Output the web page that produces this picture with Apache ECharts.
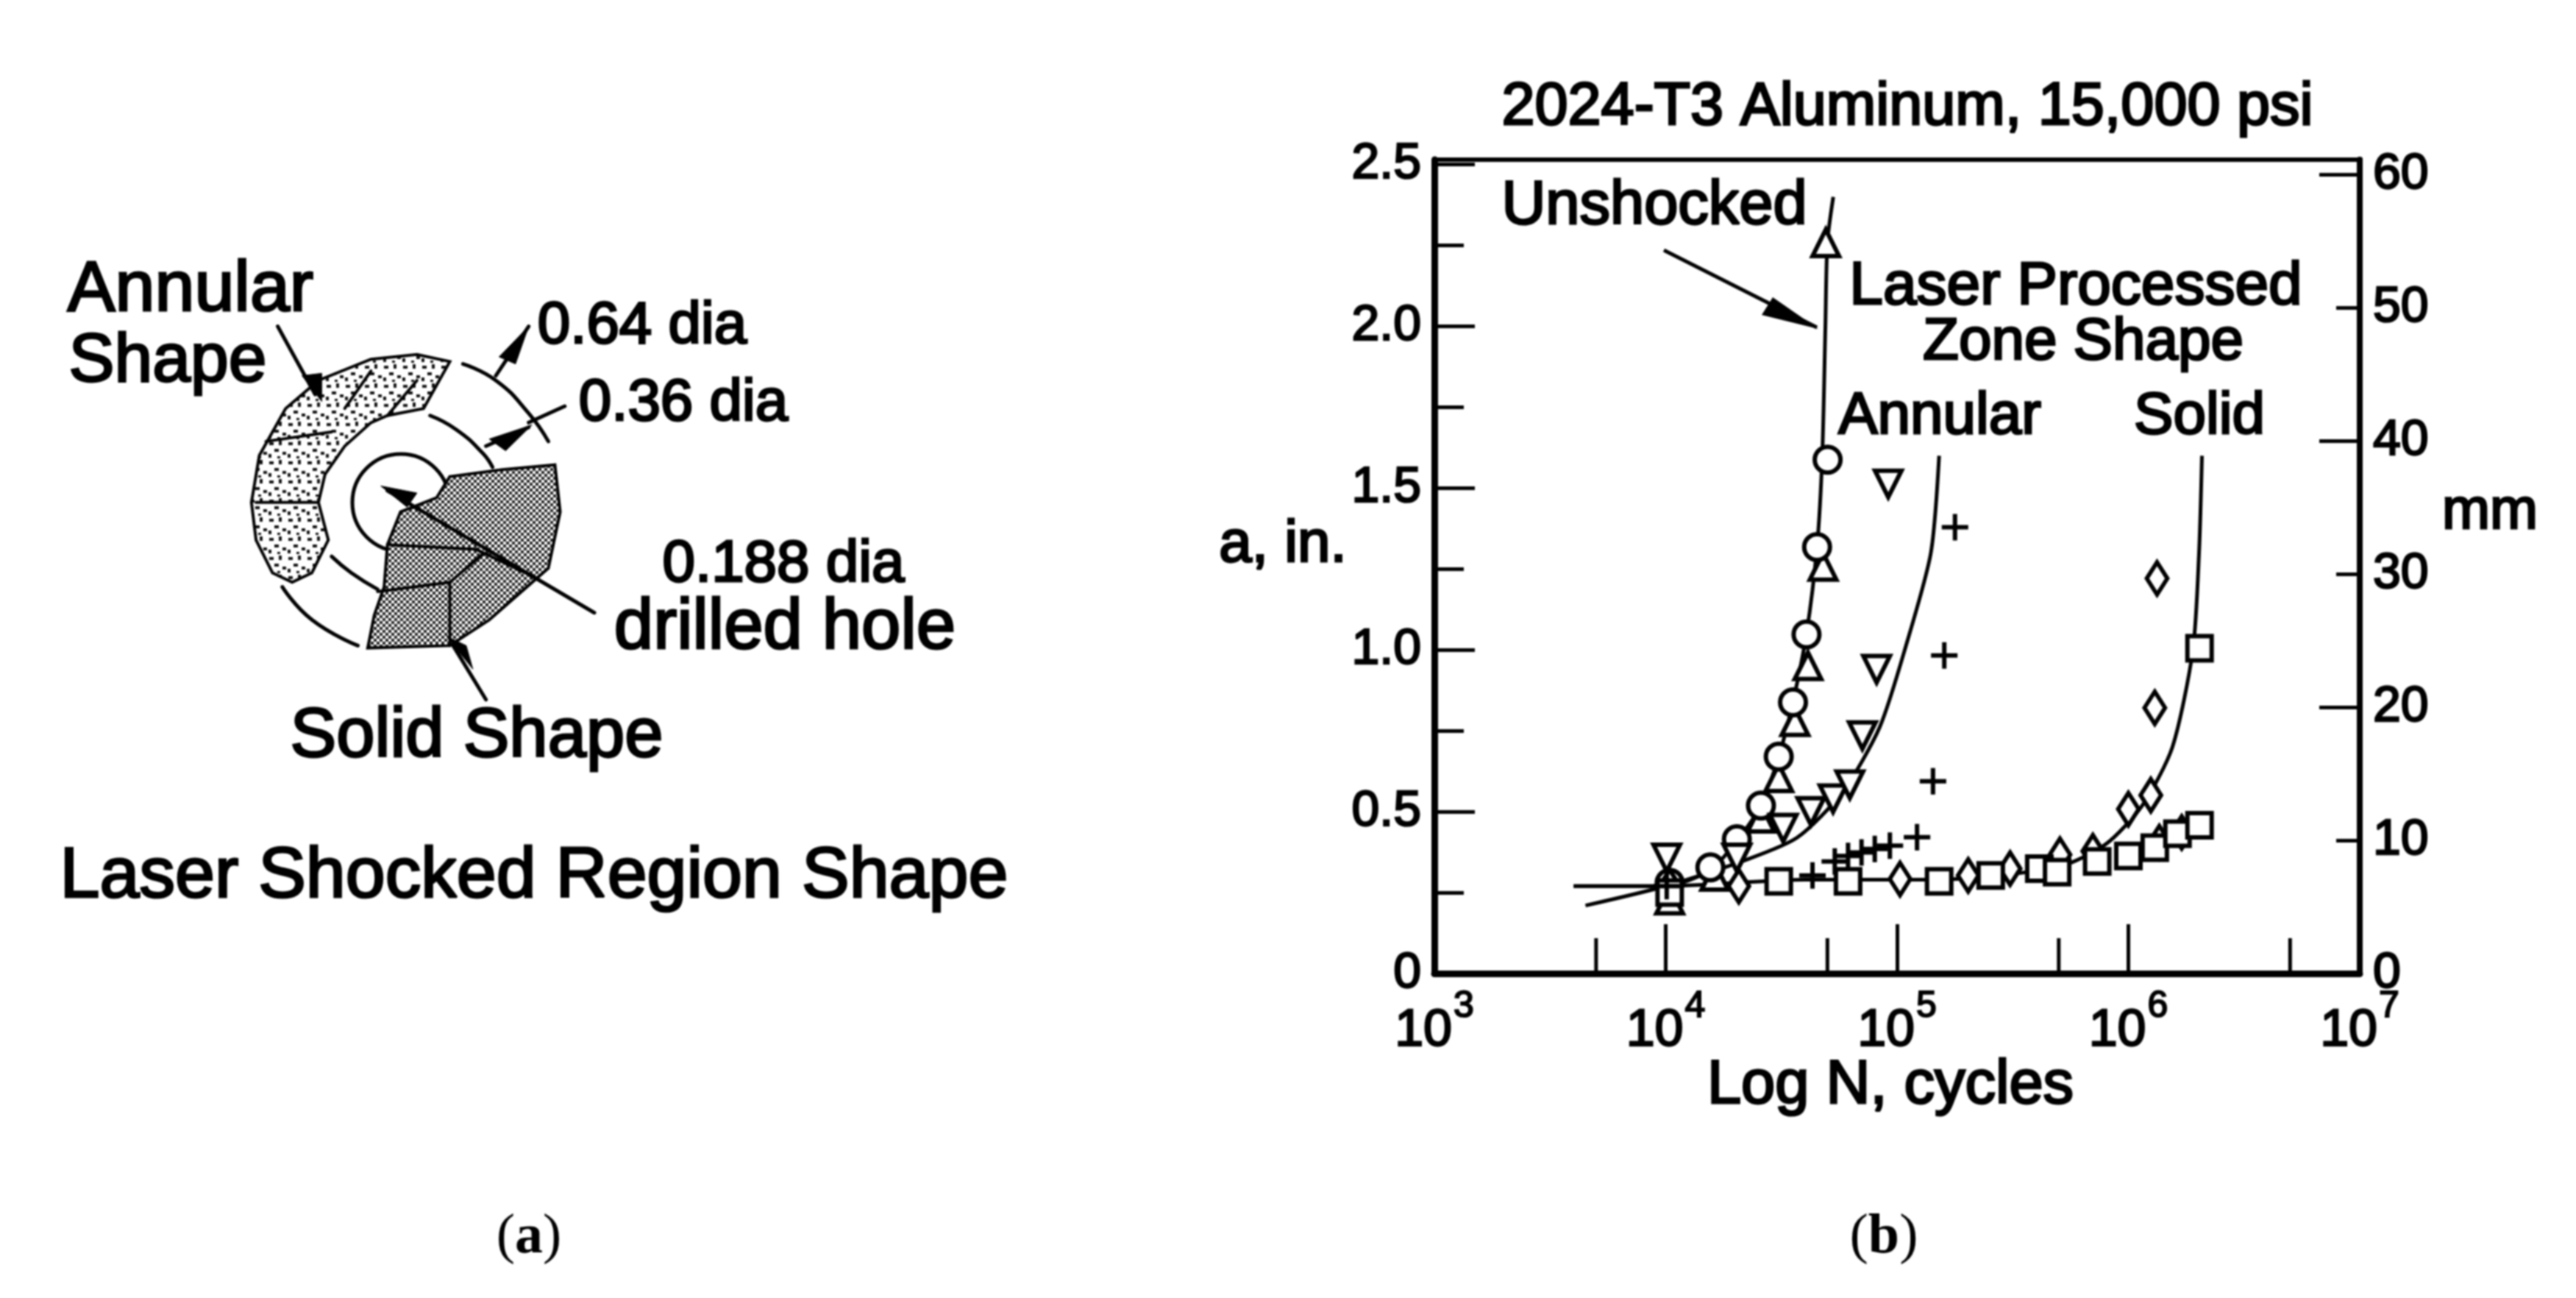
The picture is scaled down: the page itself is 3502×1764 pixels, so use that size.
<!DOCTYPE html>
<html lang="en">
<head>
<meta charset="utf-8">
<title>2024-T3 Aluminum, 15,000 psi</title>
<script src="https://cdn.jsdelivr.net/npm/echarts@6/dist/echarts.min.js"></script>
<style>
  html, body { margin: 0; padding: 0; background: #fff; }
  #main { width: 3502px; height: 1764px; filter: blur(0.8px); }
</style>
</head>
<body>
<div id="main"></div>
<script>
// curves, [cycles, a in inches]
var unshockedCurve = [[4000,.27],[10000,.27],[15600,.32],[20300,.41],[25800,.52],[30800,.67],[35500,.84],[40600,1.05],[45100,1.32],[47500,1.6],[49000,2.0],[50000,2.26],[53000,2.4]];
var annularCurve = [[4500,.21],[10000,.27],[22000,.35],[37000,.42],[58000,.56],[84000,.76],[110000,1.02],[140000,1.3],[152000,1.6]];
var solidCurve = [[4000,.27],[10000,.27],[40000,.29],[150000,.29],[500000,.33],[800000,.4],[1150000,.52],[1550000,.7],[1900000,1.0],[2020000,1.3],[2080000,1.6]];

// measured points
var circlePoints = [[10400,.28],[15600,.328],[20300,.415],[25800,.519],[30800,.67],[35500,.838],[40600,1.048],[45100,1.318],[50100,1.588]];
var triangleUpPoints = [[10400,.227],[16300,.3],[25800,.48],[30800,.605],[36200,.778],[41200,.951],[47900,1.258],[49200,2.258]];
var triangleDownPoints = [[10100,.357],[20300,.357],[32200,.449],[42400,.501],[52900,.54],[62500,.583],[70800,.735],[81600,.94],[91600,1.513]];
var plusPoints = [[10100,.27],[43100,.303],[53800,.346],[61400,.363],[70200,.374],[80100,.385],[93100,.395],[122000,.421],[143000,.594],[160000,.983],[178000,1.379]];
var diamondPoints = [[10400,.27],[20700,.27],[103000,.292],[203000,.303],[308000,.324],[506000,.367],[702000,.378],[1000000,.508],[1250000,.551],[1300000,.821],[1330000,1.221],[1360000,.406],[1700000,.436]];
var squarePoints = [[10400,.25],[30800,.285],[61400,.285],[152000,.285],[254000,.303],[412000,.324],[492000,.313],[733000,.346],[1000000,.363],[1300000,.389],[1630000,.432],[2030000,.458],[2030000,1.005]];

// ticks
var xMinorTicks = [5000, 50000, 500000, 5000000];
var mmLongTicks = [0, 20, 40, 60];
var mmShortTicks = [10, 30, 50];

// [text, centre x, centre y, font size]
var chartTexts = [
    ['2024-T3 Aluminum, 15,000 psi', 2593, 147, 81],
    ['Unshocked', 2249, 281, 83],
    ['Laser Processed', 2822, 390, 82],
    ['Zone Shape', 2832, 466, 80],
    ['Annular', 2637, 567, 80],
    ['Solid', 2990, 567, 80],
    ['a, in.', 1744, 741, 80],
    ['mm', 3385, 696, 78],
    ['Log N, cycles', 2570, 1476, 83]
];
var sketchTexts = [
    ['Annular', 259, 395, 97],
    ['Shape', 228, 492, 93],
    ['0.64 dia', 873, 444, 80],
    ['0.36 dia', 929, 549, 80],
    ['0.188 dia', 1065, 768, 80],
    ['drilled hole', 1067, 855, 96],
    ['Solid Shape', 648, 1002, 94],
    ['Laser Shocked Region Shape', 726, 1192, 97]
];

var GRID = { left: 1950, right: 294, top: 217, bottom: 441 };
var FONT = '"Liberation Sans", Arial, sans-serif';

function makeHatch(size, draw) {
    var c = document.createElement('canvas');
    c.width = c.height = size;
    draw(c.getContext('2d'));
    return { image: c, repeat: 'repeat' };
}
var stipple = makeHatch(26, function (g) {
    g.fillStyle = '#111';
    g.fillRect(2, 3, 6, 4);
    g.fillRect(15, 1, 4, 6);
    g.fillRect(9, 12, 6, 4);
    g.fillRect(20, 16, 5, 4);
    g.fillRect(1, 19, 4, 5);
    g.fillRect(13, 22, 4, 3);
});
var crossHatch = makeHatch(8, function (g) {
    g.fillStyle = '#fff';
    g.fillRect(0, 0, 8, 8);
    g.fillStyle = '#222';
    g.fillRect(0, 0, 4, 4);
    g.fillRect(4, 4, 4, 4);
});

function sk(list) {
    return list.map(function (p) { return [40 + p[0] * 0.893, 300 + p[1] * 0.638]; });
}
function polyline(pts, width, smooth) {
    return { type: 'polyline', shape: { points: sk(pts), smooth: smooth || 0 }, style: { stroke: '#000', fill: null, lineWidth: width, lineCap: 'round' }, z: 5 };
}
function polygon(pts, fill, width) {
    return { type: 'polygon', shape: { points: sk(pts) }, style: { fill: fill, stroke: '#000', lineWidth: width }, z: 4 };
}
function textEl(t) {
    return {
        type: 'text', z: 10,
        style: {
            text: t[0], x: t[1], y: t[2], align: 'center', verticalAlign: 'middle',
            fontFamily: FONT, fontSize: t[3], fill: '#000', stroke: '#000', lineWidth: 3
        }
    };
}

var graphics = [
    { type: 'circle', shape: { cx: 545, cy: 683, r: 66 }, style: { fill: '#fff', stroke: '#000', lineWidth: 5 }, z: 3 },
    polygon([[520,295],[590,285],[640,300],[620,350],[600,400],[545,415],[520,430],[480,480],[450,540],[440,600],[455,680],[430,750],[400,770],[370,750],[345,680],[338,600],[350,500],[390,400],[440,340]], stipple, 4),
    polygon([[640,545],[720,530],[800,520],[808,620],[790,740],[700,850],[640,905],[515,910],[525,840],[540,780],[545,690],[565,620],[620,590]], crossHatch, 4),
    // cracks through the shaded regions
    polyline([[590,340],[545,415]], 4),
    polyline([[520,320],[480,400]], 4),
    polyline([[345,600],[440,600]], 4),
    polyline([[360,470],[460,450]], 4),
    polyline([[545,690],[680,700],[770,760]], 4),
    polyline([[530,790],[640,770],[690,710]], 4),
    polyline([[640,770],[640,905]], 4),
    polyline([[660,305],[710,340],[760,410],[790,470]], 5, 0.5),
    polyline([[385,780],[430,850],[500,905]], 5, 0.5),
    polyline([[610,415],[650,445],[690,495],[705,525]], 5, 0.5),
    polyline([[460,715],[490,750],[530,785]], 5, 0.5),
    polyline([[378,225],[435,370]], 5),
    polyline([[695,1020],[645,905]], 5),
    polyline([[760,225],[710,330]], 5),
    polyline([[815,395],[760,430]], 5),
    polyline([[695,480],[760,440]], 5),
    polyline([[545,575],[860,835]], 5),
    polygon([[445,385],[415,330],[445,325]], '#000', 1),
    polygon([[635,885],[665,905],[675,955]], '#000', 1),
    polygon([[760,225],[715,290],[740,305]], '#000', 1),
    polygon([[765,435],[700,465],[725,490]], '#000', 1),
    polygon([[535,565],[590,580],[575,610]], '#000', 1),
    // arrow from the Unshocked label to its curve
    { type: 'line', shape: { x1: 2262, y1: 340, x2: 2470, y2: 445 }, style: { stroke: '#000', lineWidth: 5 }, z: 5 },
    { type: 'polygon', shape: { points: [[2472, 447], [2410, 404], [2395, 428]] }, style: { fill: '#000' }, z: 5 },
    {
        type: 'text', z: 10,
        style: { text: '({b|a})', x: 719, y: 1682, align: 'center', verticalAlign: 'middle', font: '76px "Liberation Serif"', fill: '#000',
            rich: { b: { fontFamily: 'Liberation Serif', fontSize: 76, fontWeight: 'bold' } } }
    },
    {
        type: 'text', z: 10,
        style: { text: '({b|b})', x: 2561, y: 1682, align: 'center', verticalAlign: 'middle', font: '76px "Liberation Serif"', fill: '#000',
            rich: { b: { fontFamily: 'Liberation Serif', fontSize: 76, fontWeight: 'bold' } } }
    }
];
sketchTexts.forEach(function (t) { graphics.push(textEl(t)); });
chartTexts.forEach(function (t) { graphics.push(textEl(t)); });

function curve(data, width) {
    return { type: 'line', data: data, smooth: 0.25, showSymbol: false, silent: true, z: 3, lineStyle: { color: '#000', width: width || 5 } };
}
function points(data, symbol, size, rotate) {
    return {
        type: 'scatter', data: data, symbol: symbol, symbolSize: size, symbolRotate: rotate || 0, z: 4,
        itemStyle: { color: '#fff', borderColor: '#000', borderWidth: 6, opacity: 1 }
    };
}
function rightAxis(values, tickLen, withLabels) {
    return {
        type: 'value', position: 'right', min: 0, max: 61.1,
        axisLine: { show: true, lineStyle: { color: '#000', width: 8 } },
        axisTick: { show: true, inside: true, length: tickLen, customValues: values, lineStyle: { color: '#000', width: 5 } },
        axisLabel: withLabels ? { show: true, customValues: [0, 10, 20, 30, 40, 50, 60], margin: 18, fontFamily: FONT, fontSize: 68, color: '#000', textBorderColor: '#000', textBorderWidth: 2.5 } : { show: false },
        splitLine: { show: false }
    };
}

var myChart = echarts.init(document.getElementById('main'));
myChart.setOption({
    backgroundColor: '#fff',
    animation: false,
    grid: GRID,
    graphic: { elements: graphics },
    xAxis: [
        {
            type: 'log', logBase: 10, min: 1000, max: 10000000, position: 'bottom',
            axisLine: { show: true, onZero: false, lineStyle: { color: '#000', width: 9 } },
            axisTick: { show: true, inside: true, length: 67, lineStyle: { color: '#000', width: 5 } },
            minorTick: { show: false },
            splitLine: { show: false },
            axisLabel: {
                margin: 14, showMinLabel: true, showMaxLabel: true,
                formatter: function (v) { return '{b|10}{s|' + Math.round(Math.log(v) / Math.LN10) + '}'; },
                rich: {
                    b: { fontFamily: FONT, fontSize: 70, color: '#000', textBorderColor: '#000', textBorderWidth: 2.5, padding: [30, 0, 0, 0] },
                    s: { fontFamily: FONT, fontSize: 50, color: '#000', textBorderColor: '#000', textBorderWidth: 2, padding: [0, 0, 38, 2] }
                }
            }
        },
        {
            type: 'log', logBase: 10, min: 1000, max: 10000000, position: 'top',
            axisLine: { show: true, onZero: false, lineStyle: { color: '#000', width: 6 } },
            axisTick: { show: false }, axisLabel: { show: false }, splitLine: { show: false }
        }
    ],
    yAxis: [
        {
            type: 'value', min: 0, max: 2.515, interval: 0.5, position: 'left',
            axisLine: { show: true, onZero: false, lineStyle: { color: '#000', width: 9 } },
            axisTick: { show: true, inside: true, length: 55, lineStyle: { color: '#000', width: 5 } },
            minorTick: { show: true, splitNumber: 2, length: 40, lineStyle: { color: '#000', width: 5 } },
            minorSplitLine: { show: false },
            splitLine: { show: false },
            axisLabel: {
                margin: 18, fontFamily: FONT, fontSize: 68, color: '#000', textBorderColor: '#000', textBorderWidth: 2.5,
                formatter: function (v) { return v === 0 ? '0' : v.toFixed(1); }
            }
        },
        rightAxis(mmLongTicks, 55, true),
        rightAxis(mmShortTicks, 32, false)
    ],
    series: [
        curve(unshockedCurve),
        curve(annularCurve),
        curve(solidCurve),
        points(triangleUpPoints, 'triangle', 36),
        points(circlePoints, 'circle', 35),
        points(triangleDownPoints, 'triangle', 36, 180),
        points(diamondPoints, 'diamond', [28, 44]),
        points(squarePoints, 'rect', 33),
        {
            type: 'scatter', data: plusPoints, symbol: 'path://M0 5H10M5 0V10', symbolSize: 36, z: 5,
            itemStyle: { color: 'none', borderColor: '#000', borderWidth: 6, opacity: 1 }
        },
        {
            // 5 x 10^n ticks on the log axis
            type: 'custom', silent: true, z: 2,
            data: xMinorTicks.map(function (v) { return [v, 0]; }),
            renderItem: function (params, api) {
                var p = api.coord([api.value(0), 0]);
                return { type: 'line', shape: { x1: p[0], y1: p[1], x2: p[0], y2: p[1] - 48 }, style: { stroke: '#000', lineWidth: 5 } };
            }
        }
    ]
});
</script>
</body>
</html>
